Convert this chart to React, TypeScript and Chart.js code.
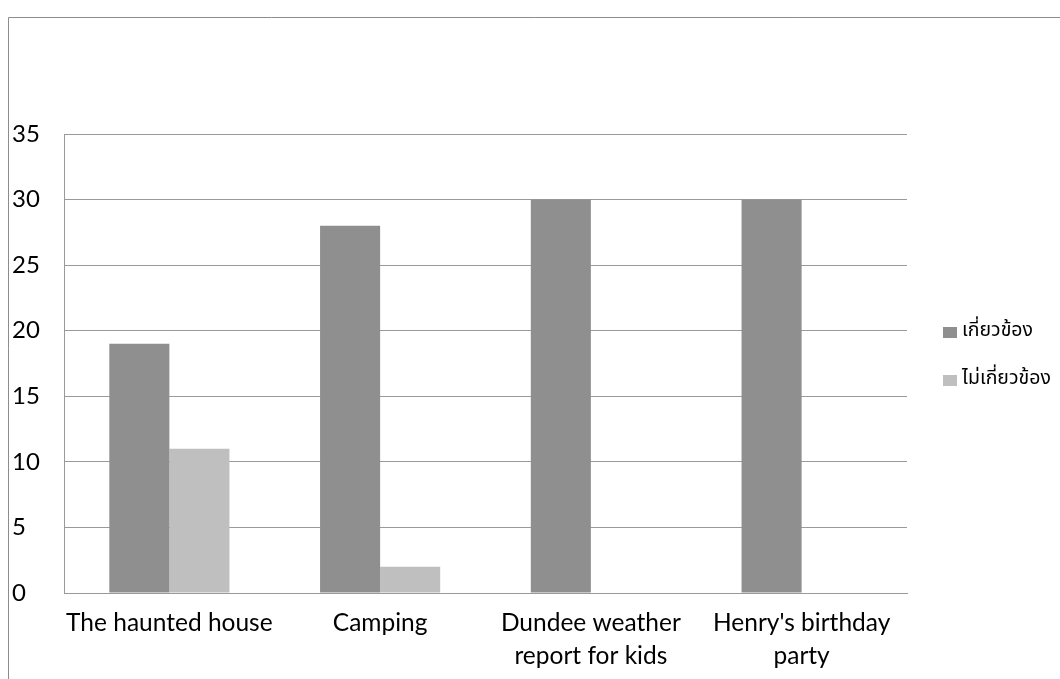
import React, { useEffect, useRef } from "react";
import { Chart, registerables } from "chart.js";

Chart.register(...registerables);

const categoryLines: string[][] = [
  ["The haunted house"],
  ["Camping"],
  ["Dundee weather", "report for kids"],
  ["Henry's birthday", "party"],
];
const relatedValues = [19, 28, 30, 30];
const unrelatedValues = [11, 2, 0, 0];
const seriesNames = ["เกี่ยวข้อง", "ไม่เกี่ยวข้อง"];
const seriesColors = ["#8f8f8f", "#bfbfbf"];
const yTicks = [0, 5, 10, 15, 20, 25, 30, 35];

const FONT = "Lato, 'Open Sans', sans-serif";

const framePlugin = {
  id: "frame",
  beforeDraw(chart: any) {
    const ctx = chart.ctx;
    ctx.save();
    ctx.strokeStyle = "#8c8c8c";
    ctx.lineWidth = 1;
    ctx.beginPath();
    ctx.moveTo(8.5, 679);
    ctx.lineTo(8.5, 17.5);
    ctx.lineTo(1060, 17.5);
    ctx.stroke();
    ctx.restore();
  },
};

const legendPlugin = {
  id: "customLegend",
  afterDraw(chart: any) {
    const ctx = chart.ctx;
    ctx.save();
    chart.data.datasets.forEach((ds: any, i: number) => {
      const y = 332 + i * 48;
      ctx.fillStyle = ds.backgroundColor;
      ctx.fillRect(943, y - 5, 14, 11);
      ctx.fillStyle = "#000";
      ctx.font = "19.5px 'Noto Sans Thai', Tahoma, 'Noto Sans', sans-serif";
      ctx.textBaseline = "middle";
      ctx.textAlign = "left";
      ctx.fillText(ds.label, 962, y);
    });
    ctx.restore();
  },
};

export default function App() {
  const ref = useRef<HTMLCanvasElement | null>(null);
  useEffect(() => {
    document.body.style.margin = "0";
    const canvas = ref.current;
    if (!canvas) return;
    const chart = new Chart(canvas, {
      type: "bar",
      data: {
        labels: categoryLines,
        datasets: [
          {
            label: seriesNames[0],
            data: relatedValues,
            backgroundColor: seriesColors[0],
            categoryPercentage: 0.57,
            barPercentage: 1.0,
          },
          {
            label: seriesNames[1],
            data: unrelatedValues,
            backgroundColor: seriesColors[1],
            categoryPercentage: 0.57,
            barPercentage: 1.0,
          },
        ],
      },
      options: {
        animation: false,
        responsive: false,
        maintainAspectRatio: false,
        layout: { padding: { left: 12, top: 134, right: 153, bottom: 0 } },
        plugins: {
          legend: { display: false },
          tooltip: { enabled: false },
        },
        scales: {
          x: {
            grid: { display: false, drawTicks: false },
            border: { display: true, color: "#9a9a9a", width: 1 },
            ticks: {
              color: "#000",
              font: { family: FONT, size: 24.5, lineHeight: 1.36 },
              padding: 13,
              maxRotation: 0,
              autoSkip: false,
            },
            afterFit(scale: any) {
              scale.height = 86;
            },
          },
          y: {
            min: 0,
            max: 35,
            afterBuildTicks(scale: any) {
              scale.ticks = yTicks.map((v) => ({ value: v }));
            },
            grid: { color: "#9a9a9a", drawTicks: false },
            border: { display: true, color: "#9a9a9a", width: 1 },
            ticks: {
              color: "#000",
              font: { family: FONT, size: 24 },
              crossAlign: "far",
              padding: 0,
            },
            afterFit(scale: any) {
              scale.width = 52;
            },
          },
        },
      },
      plugins: [framePlugin, legendPlugin],
    });
    return () => chart.destroy();
  }, []);
  return (
    <div style={{ width: 1060, height: 679, position: "relative", overflow: "hidden", background: "#fff" }}>
      <canvas ref={ref} width={1060} height={679} style={{ display: "block" }} />
    </div>
  );
}
